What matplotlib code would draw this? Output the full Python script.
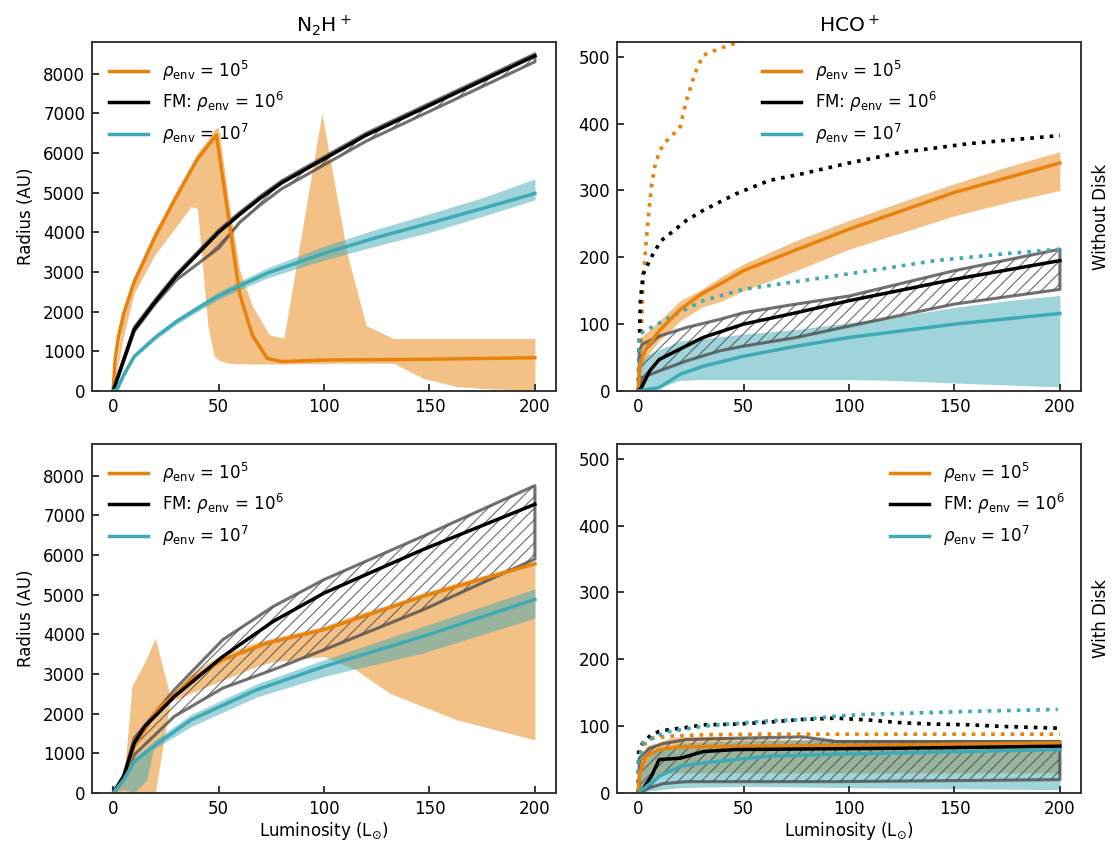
import numpy as np
import matplotlib
matplotlib.use("Agg")
import matplotlib.pyplot as plt

plt.rcParams['font.family'] = ['DejaVu Sans']
plt.rcParams['hatch.linewidth'] = 0.6

ORANGE = '#e8820c'
TEAL = '#3eaab6'
GRAY = (0.3, 0.3, 0.3, 0.8)

labels = [r'$\rho_{\rm env}$ = 10$^5$', r'FM: $\rho_{\rm env}$ = 10$^6$', r'$\rho_{\rm env}$ = 10$^7$']
col_titles = [r'N$_2$H$^+$', r'HCO$^+$']
row_titles = ['Without Disk', 'With Disk']

# ---------------- N2H+ without disk (top left) ----------------
tl_or_x = [0, 1, 2.5, 5, 10, 20, 30, 40, 49, 60, 66, 73, 80, 100, 150, 200]
tl_or_y = [0, 800, 1350, 1950, 2750, 3900, 4900, 5850, 6450, 2450, 1410, 825, 740, 780, 800, 840]
tl_orb_x = [0, 5, 10, 20, 30, 37, 40, 45, 48, 50, 55, 60, 66, 74, 81, 90, 99, 105, 111, 120, 133, 147, 163, 180, 200]
tl_orb_hi = [0, 2050, 2900, 4050, 5050, 5700, 6000, 6350, 6600, 6650, 4730, 3050, 2150, 1420, 1330, 4165,
             7000, 5225, 3450, 1650, 1320, 1320, 1320, 1320, 1320]
tl_orb_lo = [0, 1400, 2470, 3450, 4150, 4650, 4600, 1620, 870, 780, 700, 690, 680, 680, 680, 690,
             690, 700, 700, 700, 700, 320, 110, 50, 20]
tl_bk_x = [0, 10, 20, 30, 40, 50, 60, 70, 80, 90, 100, 120, 140, 160, 180, 200]
tl_bk_y = [0, 1550, 2250, 2900, 3450, 4000, 4450, 4870, 5250, 5550, 5850, 6450, 6950, 7450, 7950, 8450]
tl_bk_hi = [0, 1600, 2300, 2950, 3500, 4050, 4500, 4920, 5300, 5600, 5900, 6500, 7000, 7500, 8000, 8500]
tl_bk_lo = [0, 1500, 2200, 2800, 3200, 3600, 4250, 4700, 5100, 5400, 5700, 6300, 6800, 7300, 7800, 8300]
tl_tl_x = [0, 2, 5, 10, 20, 30, 40, 50, 60, 73, 100, 125, 150, 175, 200]
tl_tl_y = [0, 50, 400, 870, 1350, 1750, 2080, 2400, 2650, 2970, 3470, 3870, 4230, 4600, 4980]
tl_tl_hi = [0, 80, 450, 920, 1420, 1830, 2170, 2500, 2770, 3100, 3650, 4080, 4470, 4870, 5350]
tl_tl_lo = [0, 30, 350, 830, 1290, 1680, 2000, 2310, 2550, 2850, 3300, 3660, 4000, 4400, 4820]

# ---------------- HCO+ without disk (top right) ----------------
tr_ord_x = [0, 0.8, 2.4, 3.6, 5, 6.3, 7.9, 10.3, 15, 19.7, 22.9, 26.8, 30.8, 38.6, 45, 55]
tr_ord_y = [0, 25, 165, 215, 265, 305, 335, 360, 380, 392, 434, 474, 502, 512, 519, 530]
tr_bkd_x = [0, 1.1, 2.4, 4.7, 7.1, 11, 15, 22.9, 30.8, 46.5, 62.3, 78, 98.6, 125, 157, 200]
tr_bkd_y = [0, 135, 175, 190, 205, 225, 235, 255, 270, 295, 315, 325, 340, 357, 370, 382]
tr_tld_x = [0, 0.8, 3.2, 15, 30.8, 49.7, 78, 110, 141, 173, 200]
tr_tld_y = [0, 85, 90, 110, 135, 152, 165, 180, 195, 205, 212]
tr_or_x = [0, 0.8, 4, 10, 20, 30, 40, 50, 70, 100, 150, 200]
tr_or_y = [0, 40, 65, 90, 122, 145, 162, 180, 205, 242, 297, 341]
tr_orb_x = [0, 1, 5, 10, 20, 30, 40, 50, 75, 100, 125, 150, 175, 200]
tr_orb_hi = [0, 80, 90, 105, 135, 152, 172, 190, 225, 255, 283, 310, 335, 358]
tr_orb_lo = [0, 30, 55, 75, 105, 125, 135, 150, 180, 212, 237, 262, 282, 300]
tr_bk_x = [0, 1.6, 5.5, 10, 15, 30.8, 50, 75, 100, 150, 200]
tr_bk_y = [0, 5, 30, 47, 55, 80, 100, 117, 135, 167, 195]
tr_bkb_x = [0.5, 2, 10, 23, 38.6, 50, 75, 100, 150, 200]
tr_bkb_hi = [60, 70, 82, 95, 107, 117, 130, 142, 180, 212]
tr_bkb_lo = [0, 20, 30, 45, 60, 67, 80, 97, 130, 152]
tr_tl_x = [0, 10, 20, 30.8, 50, 75, 100, 150, 200]
tr_tl_y = [0, 5, 25, 37, 52, 67, 80, 100, 116]
tr_tlb_x = [0, 5, 10, 20, 30, 50, 75, 100, 120, 150, 175, 200]
tr_tlb_hi = [40, 55, 62, 75, 78, 85, 92, 102, 110, 125, 135, 143]
tr_tlb_lo = [0, 0, 5, 16, 17, 17, 17, 17, 16, 12, 9, 6]

# ---------------- N2H+ with disk (bottom left) ----------------
bl_bk_x = [0, 5, 10, 15, 29, 52, 76, 100, 147, 200]
bl_bk_y = [0, 410, 1255, 1675, 2430, 3440, 4330, 5040, 6140, 7280]
bl_bkb_x = [0, 5, 10, 29, 52, 76, 100, 147, 200]
bl_bkb_hi = [0, 450, 1380, 2600, 3865, 4705, 5380, 6475, 7750]
bl_bkb_lo = [0, 350, 960, 1930, 2645, 3110, 3610, 4620, 5900]
bl_or_x = [0, 5, 10, 21, 37, 52, 73, 100, 147, 200]
bl_or_y = [0, 330, 1170, 2100, 2855, 3360, 3780, 4120, 4960, 5780]
bl_orb_x = [0, 5, 9, 15, 20, 27, 37, 50, 68, 75, 100, 115, 131, 147, 163, 200]
bl_orb_hi = [0, 300, 2700, 3300, 3900, 2450, 3000, 3450, 3800, 3900, 4200, 4500, 4750, 5050, 5300, 5850]
bl_orb_lo = [0, 0, 0, 0, 0, 2300, 2520, 2800, 3190, 3300, 3445, 3110, 2520, 2180, 1845, 1340]
bl_tl_x = [0, 5, 10, 20, 37, 68, 100, 147, 200]
bl_tl_y = [0, 330, 790, 1210, 1845, 2600, 3190, 3950, 4880]
bl_tlb_x = [0, 5, 10, 16, 19, 20, 37, 68, 100, 147, 200]
bl_tlb_hi = [0, 400, 900, 1150, 1300, 1340, 1980, 2750, 3360, 4200, 5150]
bl_tlb_lo = [0, 100, 0, 330, 1090, 1130, 1675, 2420, 2940, 3530, 4410]

# ---------------- HCO+ with disk (bottom right) ----------------
br_ord_x = [0, 0.8, 1.2, 2.7, 7, 15, 31, 60, 100, 150, 200]
br_ord_y = [0, 30, 60, 72, 82, 85, 87, 88, 88, 88, 88]
br_bkd_x = [0, 0.3, 2.7, 6.3, 10, 15, 23, 31, 46.5, 62, 78, 94, 110, 125, 141, 157, 173, 199]
br_bkd_y = [0, 65, 77, 87, 92, 95, 98, 102, 103, 106, 110, 112, 109, 105, 103, 102, 99.5, 97]
br_tld_x = [0, 0.3, 2.4, 8.7, 15, 31, 46.5, 62, 78, 94, 110, 125, 157, 199]
br_tld_y = [0, 50, 75, 85, 92, 100, 104, 108, 110, 115, 118, 119, 122, 125]
br_or_x = [0, 0.8, 4, 10, 20, 46.5, 125, 200]
br_or_y = [0, 30, 55, 65, 69, 70, 72, 75]
br_orb_x = [0, 1, 4, 10, 15, 20, 38.6, 50, 75, 100, 200]
br_orb_hi = [0, 50, 70, 76, 82, 84, 85, 82, 80, 80, 80]
br_orb_lo = [0, 10, 20, 28, 30, 30, 30, 30, 30, 30, 30]
br_bk_x = [0, 1.6, 6.3, 10, 20, 31, 46.5, 125, 200]
br_bk_y = [0, 3, 25, 50, 52, 62, 65, 67, 70]
br_bkb_x = [0.5, 5.5, 12, 23, 46.5, 78, 94, 200]
br_bkb_hi = [52, 67, 74, 80, 82, 84, 77, 77]
br_bkb_lo = [0, 8, 14, 17, 17, 17, 17, 20]
br_tl_x = [0, 10, 20, 31, 46.5, 62, 94, 125, 200]
br_tl_y = [0, 25, 40, 45, 50, 55, 58, 60, 65]
br_tlb_x = [0, 5, 10, 20, 50, 100, 200]
br_tlb_hi = [20, 55, 65, 75, 78, 80, 80]
br_tlb_lo = [0, 3, 5, 8, 10, 8, 5]

fig = plt.figure(figsize=(8.0, 6.065), dpi=139)
W, H = 1112, 843
def box(l, t, r, b):
    return [l / W, 1 - b / H, (r - l) / W, (b - t) / H]

ax_tl = fig.add_axes(box(92, 42, 556, 391))
ax_tr = fig.add_axes(box(617, 42, 1081, 391))
ax_bl = fig.add_axes(box(92, 444, 556, 793))
ax_br = fig.add_axes(box(617, 444, 1081, 793))

FS = 8.6
LW = 1.8

def panel(ax, orb, tlb, bkb, lines, dots, legloc):
    ax.fill_between(orb[0], orb[1], orb[2], color=ORANGE, alpha=0.5, lw=0)
    ax.fill_between(tlb[0], tlb[1], tlb[2], color=TEAL, alpha=0.5, lw=0)
    ax.fill_between(bkb[0], bkb[1], bkb[2], facecolor='none', edgecolor=GRAY,
                    hatch='////', lw=1.6)
    for (x, y), c in zip(dots, [ORANGE, 'k', TEAL]):
        if x is not None:
            ax.plot(x, y, ls=':', color=c, lw=1.9)
    hs = []
    for (x, y), c, lab in zip(lines, [ORANGE, 'k', TEAL], labels):
        h, = ax.plot(x, y, color=c, lw=LW, label=lab)
        hs.append(h)
    ax.legend(handles=hs, loc=legloc, frameon=False, fontsize=FS,
              handlelength=2.4, labelspacing=0.45, borderaxespad=0.6)
    ax.set_xlim(-10, 210)
    ax.set_xticks([0, 50, 100, 150, 200])
    ax.tick_params(direction='in', labelsize=FS, length=3.5, width=1.0, color='#333333')
    for s in ax.spines.values():
        s.set_color('#333333')
        s.set_linewidth(1.0)

nodots = [(None, None)] * 3
panel(ax_tl, (tl_orb_x, tl_orb_lo, tl_orb_hi), (tl_tl_x, tl_tl_lo, tl_tl_hi),
      (tl_bk_x, tl_bk_lo, tl_bk_hi),
      [(tl_or_x, tl_or_y), (tl_bk_x, tl_bk_y), (tl_tl_x, tl_tl_y)], nodots, 'upper left')
panel(ax_tr, (tr_orb_x, tr_orb_lo, tr_orb_hi), (tr_tlb_x, tr_tlb_lo, tr_tlb_hi),
      (tr_bkb_x, tr_bkb_lo, tr_bkb_hi),
      [(tr_or_x, tr_or_y), (tr_bk_x, tr_bk_y), (tr_tl_x, tr_tl_y)],
      [(tr_ord_x, tr_ord_y), (tr_bkd_x, tr_bkd_y), (tr_tld_x, tr_tld_y)], 'upper center')
panel(ax_bl, (bl_orb_x, bl_orb_lo, bl_orb_hi), (bl_tlb_x, bl_tlb_lo, bl_tlb_hi),
      (bl_bkb_x, bl_bkb_lo, bl_bkb_hi),
      [(bl_or_x, bl_or_y), (bl_bk_x, bl_bk_y), (bl_tl_x, bl_tl_y)], nodots, 'upper left')
panel(ax_br, (br_orb_x, br_orb_lo, br_orb_hi), (br_tlb_x, br_tlb_lo, br_tlb_hi),
      (br_bkb_x, br_bkb_lo, br_bkb_hi),
      [(br_or_x, br_or_y), (br_bk_x, br_bk_y), (br_tl_x, br_tl_y)],
      [(br_ord_x, br_ord_y), (br_bkd_x, br_bkd_y), (br_tld_x, br_tld_y)], 'upper right')

for ax in (ax_tl, ax_bl):
    ax.set_ylim(0, 8800)
    ax.set_yticks(range(0, 8001, 1000))
    ax.set_ylabel('Radius (AU)', fontsize=FS, labelpad=4)
for ax in (ax_tr, ax_br):
    ax.set_ylim(0, 522)
    ax.set_yticks(range(0, 501, 100))
for ax in (ax_bl, ax_br):
    ax.set_xlabel(r'Luminosity (L$_{\odot}$)', fontsize=FS, labelpad=1)

ax_tl.set_title(col_titles[0], fontsize=10.5, pad=5)
ax_tr.set_title(col_titles[1], fontsize=10.5, pad=5)
ax_tr.text(1.043, 0.5, row_titles[0], rotation=90, transform=ax_tr.transAxes,
           ha='center', va='center', fontsize=FS)
ax_br.text(1.043, 0.5, row_titles[1], rotation=90, transform=ax_br.transAxes,
           ha='center', va='center', fontsize=FS)

fig.savefig('out.png', dpi=139)
